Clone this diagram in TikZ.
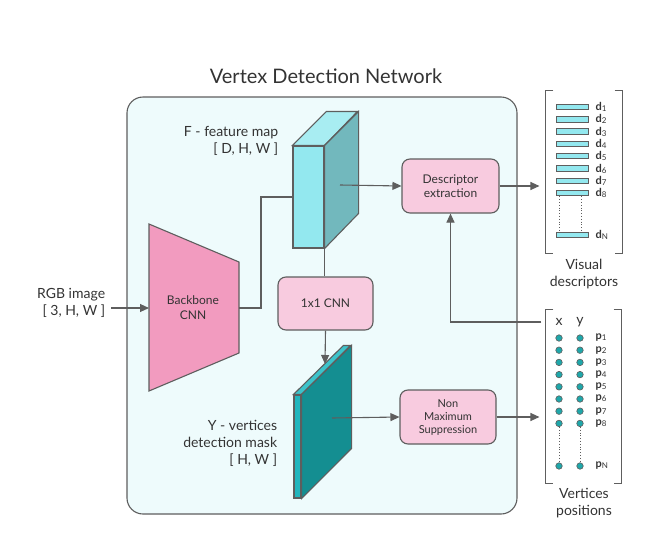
\documentclass[tikz,border=0pt]{standalone}
\usepackage{fontspec}
\setmainfont{Lato}
\usetikzlibrary{arrows.meta}
\definecolor{edge}{HTML}{5E5E5E}
\definecolor{ink}{HTML}{333333}
\definecolor{panel}{HTML}{EEFBFC}
\definecolor{bbpink}{HTML}{F29BBF}
\definecolor{boxpink}{HTML}{F8CBDF}
\definecolor{fface}{HTML}{93E8EF}
\definecolor{ftop}{HTML}{A8EDF2}
\definecolor{fside}{HTML}{72B8BD}
\definecolor{yface}{HTML}{22B5BD}
\definecolor{ytop}{HTML}{3CC3CA}
\definecolor{yside}{HTML}{148E91}
\definecolor{dotc}{HTML}{1FA7AA}
\begin{document}
\begin{tikzpicture}[x=1pt,y=-1pt,>={Triangle[length=9pt,width=8pt]},line width=1.1pt,
  lbl/.style={text=ink,align=right,anchor=east,font=\fontsize{14}{17}\selectfont},
  vcaption/.style={text=ink,align=center,font=\fontsize{14}{17}\selectfont},
  op/.style={draw=edge,fill=boxpink,rounded corners=8pt,align=center,text=ink,font=\fontsize{12}{14}\selectfont},
  bar/.style={draw=edge,fill=fface,line width=1pt,minimum width=32,minimum height=5.5,inner sep=0pt},
  posdot/.style={circle,draw=edge,fill=dotc,line width=.6pt,minimum size=6.5,inner sep=0pt},
  vlbl/.style={text=ink,anchor=west,inner sep=0pt,font=\fontsize{11}{11}\selectfont\bfseries},
  wire/.style={draw=edge}]
\useasboundingbox (0,0) rectangle (665,544);
\node[text=ink,font=\fontsize{20}{24}\selectfont] (title) at (326,76) {Vertex Detection Network};
\draw[edge,fill=panel,rounded corners=16pt] (127,97) rectangle (517,514);
% backbone
\draw[edge,fill=bbpink] (149,224) -- (239,262) -- (239,353) -- (149,391) -- cycle;
\node[text=ink,align=center,font=\fontsize{12}{15}\selectfont] (bb) at (193,308) {Backbone\\CNN};
\coordinate (bbin) at (149,308);\coordinate (bbout) at (239,308);
\node[lbl] (rgb) at (109,303) {RGB image\\{[} 3, H, W {]}};
\draw[wire,->] ([xshift=2pt]rgb.east |- bbin) -- (bbin);
% feature map F
\node[draw=edge,fill=fface,minimum width=31,minimum height=102,inner sep=0pt] (fmap) at (308.5,197) {};
\draw[edge,fill=ftop] (fmap.north west) -- ++(34,-34) -- ++(31,0) -- (fmap.north east) -- cycle;
\draw[edge,fill=fside] (fmap.north east) -- ++(34,-34) -- ++(0,102) -- (fmap.south east) -- cycle;
\node[lbl] (flbl) at (282,141) {F - feature map\\{[} D, H, W {]}};
\draw[wire] (bbout) -- ++(22,0) |- (fmap.west);
\coordinate (fout) at (340,185);
% descriptor branch
\node[op,minimum width=97,minimum height=54] (dext) at (450.5,186) {Descriptor\\extraction};
\draw[wire,->] (fout) -- (dext.west);
% 1x1 conv and mask Y
\node[op,minimum width=95,minimum height=53] (cnn1) at (325.5,303.5) {1x1 CNN};
\draw[wire] (fmap.south east) -- (fmap.south east |- cnn1.north);
\node[draw=edge,fill=yface,minimum width=7,minimum height=103,inner sep=0pt] (ymask) at (297.5,446.5) {};
\draw[edge,fill=ytop] (ymask.north west) -- ++(50,-49) -- ++(7,0) -- (ymask.north east) -- cycle;
\draw[edge,fill=yside] (ymask.north east) -- ++(50,-49) -- ++(0,103) -- (ymask.south east) -- cycle;
\coordinate (yin) at (325,364);\coordinate (yout) at (332,418);
\draw[wire,->] (cnn1.south) -- (yin);
\node[lbl] (ylbl) at (281,443) {Y - vertices\\detection mask\\{[} H, W {]}};
\node[op,minimum width=96,minimum height=54,font=\fontsize{11}{13}\selectfont] (nms) at (448,417) {Non\\Maximum\\Suppression};
\draw[wire,->] (yout) -- (nms.west);
% visual descriptors
\node[minimum width=76,minimum height=162] (dvec) at (584,172) {};
\draw[edge] ([xshift=8pt]dvec.north west) -- (dvec.north west) -- (dvec.south west) -- ++(8,0);
\draw[edge] ([xshift=-8pt]dvec.north east) -- (dvec.north east) -- (dvec.south east) -- ++(-8,0);
\foreach \i in {1,...,8}{
  \node[bar] (bar\i) at (572,{107+12.3*(\i-1)}) {};
  \node[vlbl] at (595,{107+12.3*(\i-1)}) {d\raisebox{-1pt}{\fontsize{8}{8}\selectfont\mdseries\i}};
}
\node[bar] (barN) at (572,235) {};
\node[vlbl] at (595,235) {d\raisebox{-1pt}{\fontsize{8}{8}\selectfont\mdseries N}};
\draw[edge,dotted,line width=.8pt] ([xshift=4pt]bar8.south west) -- ([xshift=4pt]barN.north west);
\draw[edge,dotted,line width=.8pt] ([xshift=-7pt]bar8.south east) -- ([xshift=-7pt]barN.north east);
\draw[wire,->,shorten >=6pt] (dext.east) -- (dext.east -| dvec.west);
\node[vcaption] (dcap) at (584,274) {Visual\\descriptors};
% vertices positions
\node[minimum width=75,minimum height=173] (pvec) at (583.5,396.5) {};
\draw[edge] ([xshift=8pt]pvec.north west) -- (pvec.north west) -- (pvec.south west) -- ++(8,0);
\draw[edge] ([xshift=-8pt]pvec.north east) -- (pvec.north east) -- (pvec.south east) -- ++(-8,0);
\node[text=ink,font=\fontsize{14}{14}\selectfont] (xlbl) at (559,322) {x};
\node[text=ink,font=\fontsize{14}{14}\selectfont] (ylbl2) at (580,322) {y};
\foreach \i in {1,...,8}{
  \node[posdot] (px\i) at (559,{338+12.2*(\i-1)}) {};
  \node[posdot] (py\i) at (580,{338+12.2*(\i-1)}) {};
  \node[vlbl] at (595,{338+12.2*(\i-1)}) {p\raisebox{-1pt}{\fontsize{8}{8}\selectfont\mdseries\i}};
}
\node[posdot] (pxN) at (559,466) {};\node[posdot] (pyN) at (580,466) {};
\node[vlbl] at (595,466) {p\raisebox{-1pt}{\fontsize{8}{8}\selectfont\mdseries N}};
\draw[edge,dotted,line width=.8pt] (px8) -- (pxN);
\draw[edge,dotted,line width=.8pt] (py8) -- (pyN);
\draw[wire,->,shorten >=6pt] (nms.east) -- (nms.east -| pvec.west);
\draw[wire,->] ([xshift=-4pt]pvec.west |- xlbl) -| (dext.south);
\node[vcaption] (pcap) at (584,503) {Vertices\\positions};
\end{tikzpicture}
\end{document}
